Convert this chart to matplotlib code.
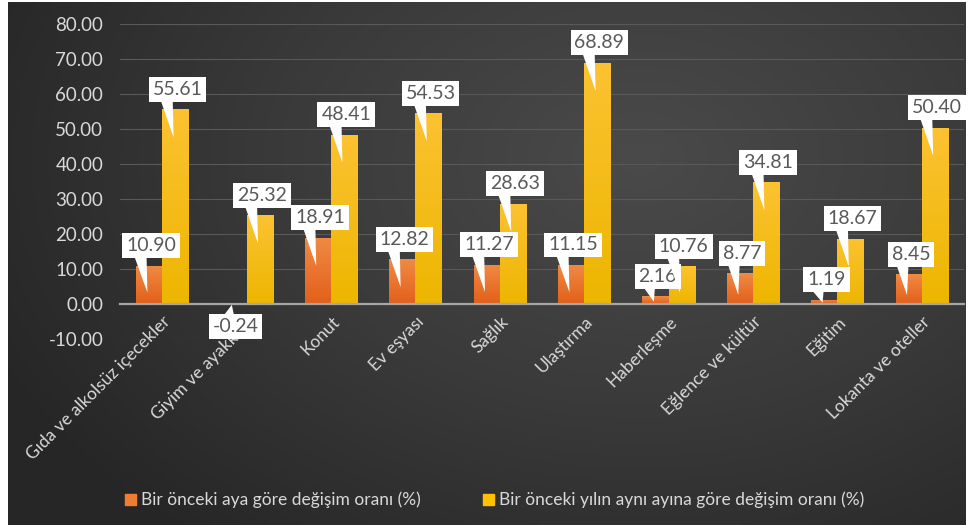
import numpy as np
import matplotlib.pyplot as plt
from matplotlib.patches import Patch
from matplotlib.colors import LinearSegmentedColormap

categories = ["Gıda ve alkolsüz içecekler", "Giyim ve ayakkabı", "Konut", "Ev eşyası",
              "Sağlık", "Ulaştırma", "Haberleşme", "Eğlence ve kültür", "Eğitim",
              "Lokanta ve oteller"]
monthly = [10.90, -0.24, 18.91, 12.82, 11.27, 11.15, 2.16, 8.77, 1.19, 8.45]
yearly = [55.61, 25.32, 48.41, 54.53, 28.63, 68.89, 10.76, 34.81, 18.67, 50.40]
series_names = ["Bir önceki aya göre değişim oranı (%)",
                "Bir önceki yılın aynı ayına göre değişim oranı (%)"]

plt.rcParams['font.family'] = ['Lato', 'DejaVu Sans']

W, H = 970, 525
fig = plt.figure(figsize=(W / 100, H / 100), dpi=100)
fig.patch.set_facecolor('white')

# dark panel with soft radial gradient
bg = fig.add_axes([8 / W, 0, 958 / W, 523 / H])
yy, xx = np.mgrid[0:1:300j, 0:1:500j]
d = np.sqrt(((xx - 0.66) / 0.75) ** 2 + ((yy - 0.3) / 0.95) ** 2)
shade = 1 - np.clip(d, 0, 1)
bg_cmap = LinearSegmentedColormap.from_list('bg', ['#262626', '#3a3a3a', '#4a4a4a'])
bg.imshow(shade, cmap=bg_cmap, aspect='auto', extent=(0, 1, 0, 1), origin='upper',
          vmin=0, vmax=1)
bg.set_axis_off()

ax = fig.add_axes([120 / W, 1 - 339 / H, 844 / W, 315 / H])
ax.patch.set_alpha(0)

x = np.arange(len(categories))
w = 0.31
orange_cmap = LinearSegmentedColormap.from_list('o', ['#e2601a', '#f08a44'])
yellow_cmap = LinearSegmentedColormap.from_list('y', ['#edb600', '#fcc232'])

b1 = ax.bar(x - w / 2, monthly, w, color='#ed7d31', zorder=3)
b2 = ax.bar(x + w / 2, yearly, w, color='#ffc000', zorder=3)

# vertical gradient fill on each bar
grad = np.linspace(0, 1, 100).reshape(-1, 1)
for bars, cm in ((b1, orange_cmap), (b2, yellow_cmap)):
    for r in bars:
        x0, y0 = r.get_x(), r.get_y()
        h = r.get_height()
        im = ax.imshow(grad, cmap=cm, aspect='auto', origin='lower',
                       extent=(x0, x0 + r.get_width(), min(y0, y0 + h), max(y0, y0 + h)),
                       zorder=3.5)
        im.set_clip_path(r)

ax.set_xlim(-0.5, len(categories) - 0.5)
ax.set_ylim(-10, 80)
ax.set_yticks(np.arange(-10, 81, 10))
ax.yaxis.set_major_formatter(plt.FormatStrFormatter('%.2f'))
ax.grid(axis='y', color='#595959', lw=0.8, zorder=0)
ax.set_axisbelow(True)

for s in ('top', 'right', 'left'):
    ax.spines[s].set_visible(False)
ax.spines['bottom'].set_position(('data', 0))
ax.spines['bottom'].set_color('#a6a6a6')
ax.spines['bottom'].set_linewidth(1.6)
ax.spines['bottom'].set_zorder(4)

ax.tick_params(axis='y', length=0, pad=12, labelsize=13.5, labelcolor='#d9d9d9')
ax.tick_params(axis='x', length=0, pad=7, labelsize=12.5, labelcolor='#d9d9d9')
ax.set_xticks(x)
ax.set_xticklabels(categories, rotation=45, ha='right', va='top', rotation_mode='anchor')

# callout labels
px = 3.5  # pixels per data unit
for xs, vals in ((x - w / 2, monthly), (x + w / 2, yearly)):
    for xc, v in zip(xs, vals):
        if v >= 0:
            tip = max(v - 8, v * 0.3)
            txt_y = v + 20 / px
            rel = (0.28, 0)
        else:
            tip = v
            txt_y = v - 22 / px
            rel = (0.35, 1)
        ax.annotate(f'{v:.2f}', xy=(xc - 0.02, tip), xytext=(xc + 0.025, txt_y),
                    ha='center', va='center', fontsize=14, color='#595959', zorder=6,
                    bbox=dict(boxstyle='square,pad=0.2', fc='white', ec='none'),
                    arrowprops=dict(arrowstyle='wedge,tail_width=0.65,shrink_factor=0.5',
                                    fc='white', ec='none', relpos=rel,
                                    shrinkA=0, shrinkB=0, patchA=None))

handles = [Patch(color='#ed7d31'), Patch(color='#ffc000')]
fig.legend(handles, series_names, loc='center', bbox_to_anchor=(0.51, 1 - 500 / H),
           ncol=2, frameon=False, fontsize=12.5, labelcolor='#d9d9d9',
           handlelength=0.6, handleheight=0.6, handletextpad=0.3, columnspacing=3.6)

fig.savefig('out.png', dpi=100, facecolor=fig.get_facecolor())
